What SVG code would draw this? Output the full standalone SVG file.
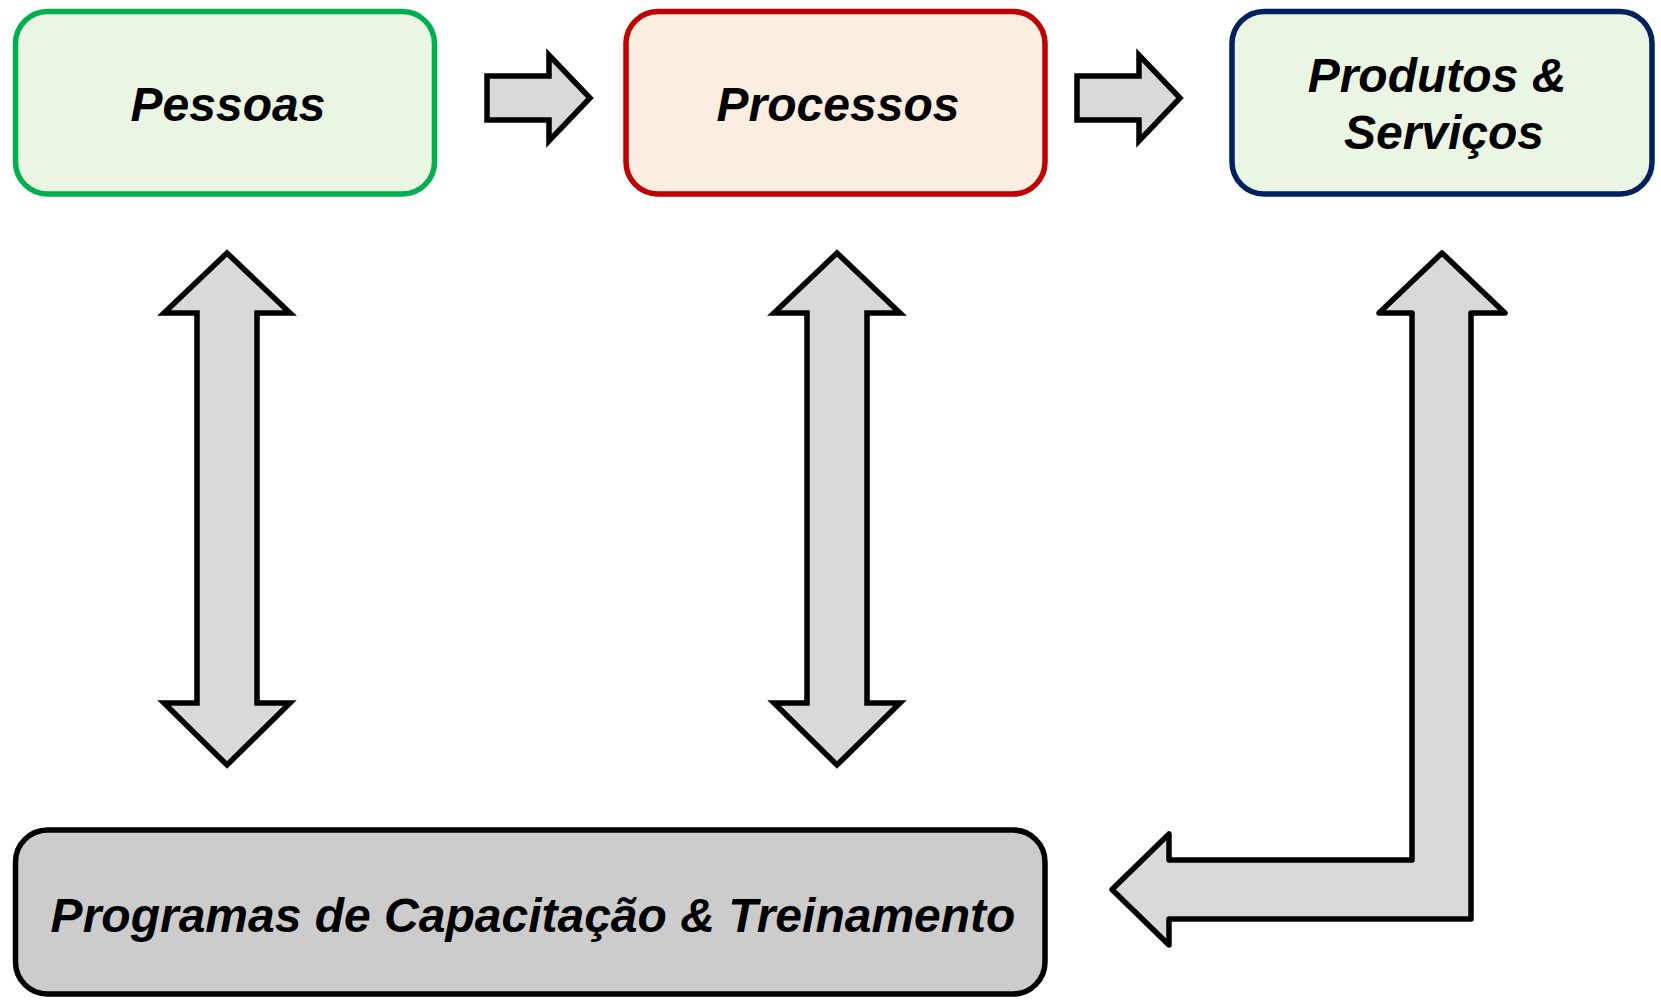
<svg xmlns="http://www.w3.org/2000/svg" width="1661" height="1000" viewBox="0 0 1661 1000">
<style>
.box{stroke-width:5.5}
.lbl{font-family:"Liberation Sans",Arial,sans-serif;font-weight:bold;font-style:italic;font-size:48px;fill:#000;text-anchor:middle}
.arr{fill:#D9D9D9;stroke:#000;stroke-width:5.5;stroke-linejoin:miter}
</style>
<rect width="1661" height="1000" fill="#FFFFFF"/>
<g id="pessoas">
<rect class="box" x="15.5" y="11.5" width="419" height="182.5" rx="32" fill="#EAF5E4" stroke="#00B050"/>
<text class="lbl" x="228" y="121">Pessoas</text>
</g>
<g id="processos">
<rect class="box" x="626" y="11.5" width="419" height="182.5" rx="32" fill="#FBEEE0" stroke="#C00000"/>
<text class="lbl" x="838" y="121">Processos</text>
</g>
<g id="produtos">
<rect class="box" x="1232" y="11.5" width="420" height="182.5" rx="32" fill="#EAF5E4" stroke="#002060"/>
<text class="lbl" x="1437" y="92">Produtos &amp;</text>
<text class="lbl" x="1444" y="149">Serviços</text>
</g>
<g id="programas">
<rect class="box" x="15.5" y="830" width="1029.5" height="164" rx="32" fill="#CCCCCC" stroke="#000000"/>
<text class="lbl" x="533" y="932">Programas de Capacitação &amp; Treinamento</text>
</g>
<g id="connectors">
<polygon class="arr" points="487,76 549,76 549,55 590,98 549,141 549,120 487,120"/>
<polygon class="arr" points="1077,76 1139,76 1139,55 1180,98 1139,141 1139,120 1077,120"/>
<polygon class="arr" points="227,253 290,313 257,313 257,703 290,703 227,765 164,703 197,703 197,313 164,313"/>
<polygon class="arr" points="837,253 900,313 867,313 867,703 900,703 837,765 774,703 807,703 807,313 774,313"/>
<polygon class="arr" style="stroke-linejoin:round" points="1442,253 1505,313 1471,313 1471,919 1169,919 1169,945 1112,889.5 1169,834 1169,860 1412,860 1412,313 1379,313"/>
</g>
</svg>
